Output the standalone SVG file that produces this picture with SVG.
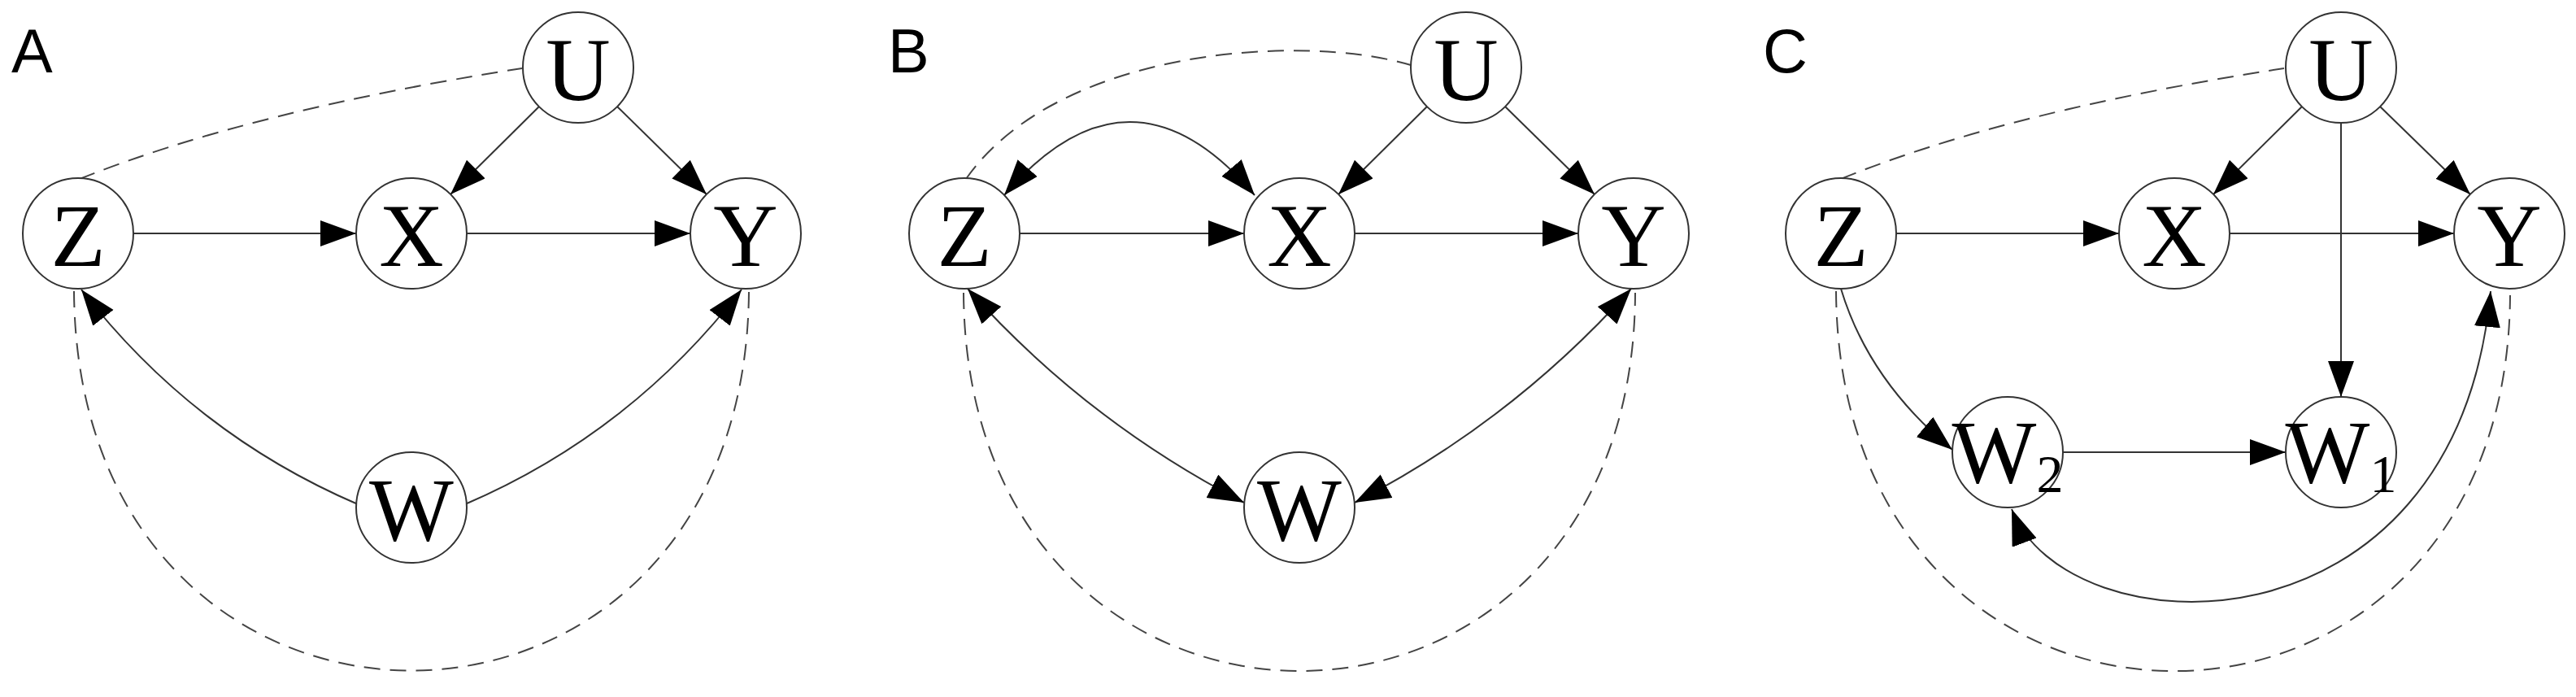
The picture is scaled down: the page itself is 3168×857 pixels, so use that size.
<svg xmlns="http://www.w3.org/2000/svg" width="3168" height="857" viewBox="0 0 3168 857">
<style>
.n{fill:#fff;stroke:#333;stroke-width:2}
.t{font-family:"Liberation Serif",serif;font-size:110px;text-anchor:middle;fill:#000}
.p{font-family:"Liberation Sans",sans-serif;font-size:76px;fill:#000}
.e{fill:none;stroke:#333;stroke-width:2}
.a{marker-end:url(#ah)}
.b{marker-start:url(#ah);marker-end:url(#ah)}
.d{fill:none;stroke:#444;stroke-width:2;stroke-dasharray:20 12}
</style>
<defs>
<marker id="ah" markerUnits="userSpaceOnUse" markerWidth="46" markerHeight="34" refX="44" refY="16" orient="auto-start-reverse"><path d="M0,0 L44,16 L0,32 z" fill="#000"/></marker>
</defs>
<rect width="3168" height="857" fill="#fff"/>
<text class="p" x="14" y="89">A</text>
<text class="p" x="1092" y="89">B</text>
<text class="p" x="2168" y="89">C</text>
<g id="connectors">
<line class="e a" x1="164" y1="287" x2="438" y2="287"/>
<line class="e a" x1="574" y1="287" x2="849" y2="287"/>
<line class="e a" x1="663" y1="131" x2="554" y2="239"/>
<line class="e a" x1="759" y1="131" x2="869" y2="239"/>
<path class="e a" d="M440,620 Q237,533 100,356"/>
<path class="e a" d="M572,620 Q775,533 912,356"/>
<path class="d" d="M98,220 Q308,136 642,84"/>
<path class="d" d="M91,358 C95,980 917,980 921,358"/>
<line class="e a" x1="1254" y1="287" x2="1530" y2="287"/>
<line class="e a" x1="1666" y1="287" x2="1941" y2="287"/>
<line class="e a" x1="1755" y1="131" x2="1646" y2="239"/>
<line class="e a" x1="1851" y1="131" x2="1961" y2="239"/>
<path class="e b" d="M1235,240 Q1390,60 1543,240"/>
<path class="e b" d="M1190,355 Q1336,518 1530,618"/>
<path class="e b" d="M2006,355 Q1860,518 1666,618"/>
<path class="d" d="M1188,220 C1300,60 1600,40 1735,80"/>
<path class="d" d="M1185,360 C1189,980 2009,980 2011,360"/>
<line class="e a" x1="2332" y1="287" x2="2606" y2="287"/>
<line class="e a" x1="2742" y1="287" x2="3018" y2="287"/>
<line class="e a" x1="2831" y1="131" x2="2722" y2="239"/>
<line class="e a" x1="2927" y1="131" x2="3038" y2="239"/>
<line class="e a" x1="2879" y1="151" x2="2879" y2="488"/>
<line class="e a" x1="2537" y1="556" x2="2811" y2="556"/>
<path class="e a" d="M2264,355 Q2298,468 2401,553"/>
<path class="e b" d="M2474,626 C2540,800 3020,820 3063,358"/>
<path class="d" d="M2264,220 Q2470,136 2809,84"/>
<path class="d" d="M2258,358 C2262,980 3083,980 3087,363"/>
</g>
<g id="A-Z"><ellipse class="n" cx="96" cy="287" rx="68" ry="68"/><text class="t" x="96" y="327">Z</text></g>
<g id="A-X"><ellipse class="n" cx="506" cy="287" rx="68" ry="68"/><text class="t" x="506" y="327">X</text></g>
<g id="A-Y"><ellipse class="n" cx="917" cy="287" rx="68" ry="68"/><text class="t" x="917" y="327">Y</text></g>
<g id="A-U"><ellipse class="n" cx="711" cy="83" rx="68" ry="68"/><text class="t" x="711" y="123">U</text></g>
<g id="A-W"><ellipse class="n" cx="506" cy="624" rx="68" ry="68"/><text class="t" x="506" y="664">W</text></g>
<g id="B-Z"><ellipse class="n" cx="1186" cy="287" rx="68" ry="68"/><text class="t" x="1186" y="327">Z</text></g>
<g id="B-X"><ellipse class="n" cx="1598" cy="287" rx="68" ry="68"/><text class="t" x="1598" y="327">X</text></g>
<g id="B-Y"><ellipse class="n" cx="2009" cy="287" rx="68" ry="68"/><text class="t" x="2009" y="327">Y</text></g>
<g id="B-U"><ellipse class="n" cx="1803" cy="83" rx="68" ry="68"/><text class="t" x="1803" y="123">U</text></g>
<g id="B-W"><ellipse class="n" cx="1598" cy="624" rx="68" ry="68"/><text class="t" x="1598" y="664">W</text></g>
<g id="C-Z"><ellipse class="n" cx="2264" cy="287" rx="68" ry="68"/><text class="t" x="2264" y="327">Z</text></g>
<g id="C-X"><ellipse class="n" cx="2674" cy="287" rx="68" ry="68"/><text class="t" x="2674" y="327">X</text></g>
<g id="C-Y"><ellipse class="n" cx="3086" cy="287" rx="68" ry="68"/><text class="t" x="3086" y="327">Y</text></g>
<g id="C-U"><ellipse class="n" cx="2879" cy="83" rx="68" ry="68"/><text class="t" x="2879" y="123">U</text></g>
<g id="C-W2"><ellipse class="n" cx="2469" cy="556" rx="68" ry="68"/><text class="t" x="2469" y="593">W<tspan font-size="66" dy="12">2</tspan></text></g>
<g id="C-W1"><ellipse class="n" cx="2879" cy="556" rx="68" ry="68"/><text class="t" x="2879" y="593">W<tspan font-size="66" dy="12">1</tspan></text></g>
</svg>
